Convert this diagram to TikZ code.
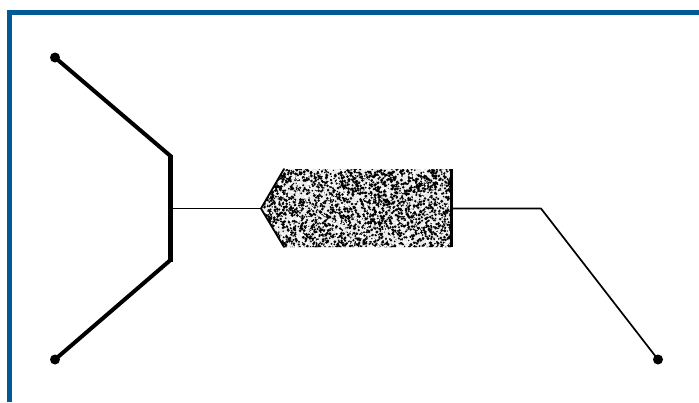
\documentclass[tikz,border=0pt]{standalone}
\definecolor{frameblue}{RGB}{0,90,150}
\definecolor{speckgrey}{RGB}{235,235,235}
\tikzset{
  wire/.style={draw=black,line join=miter,line cap=round},
  terminal/.style={circle,fill=black,inner sep=0pt,minimum size=10pt},
  frameline/.style={draw=frameblue,line width=5.5pt},
}
\begin{document}
\begin{tikzpicture}[x=1pt,y=-1pt]
\useasboundingbox (0,0) rectangle (699,402);
\fill[white] (0,0) rectangle (699,402);
% frame
\draw[frameline] (9.7,402) -- (9.7,12.7) -- (699,12.7);
% named points
\coordinate (tl) at (55,57.5);
\coordinate (bl) at (55,359.5);
\coordinate (br) at (658,359.5);
\coordinate (ja) at (170.5,156);
\coordinate (jb) at (170.5,260);
\coordinate (jm) at (170.5,208.5);
\coordinate (tip) at (261,208.5);
\coordinate (ca) at (284,169);
\coordinate (cb) at (284,247);
\coordinate (ra) at (451.3,169);
\coordinate (rb) at (451.3,247);
\coordinate (rm) at (451.3,208.5);
\coordinate (bend) at (541,208.5);
% speckled body
\begin{scope}
\clip (tip) -- (ca) -- (ra) -- (rb) -- (cb) -- cycle;
\fill[speckgrey] (255,165) rectangle (455,250);
\pgfmathsetseed{4242}
\foreach \i in {1,...,1100}{
  \pgfmathsetmacro{\px}{258+196*rnd}
  \pgfmathsetmacro{\py}{166+84*rnd}
  \pgfmathsetmacro{\pr}{0.7+1.0*rnd}
  \fill[white] (\px,\py) circle[radius=\pr pt];
}
\foreach \i in {1,...,2900}{
  \pgfmathsetmacro{\px}{258+196*rnd}
  \pgfmathsetmacro{\py}{166+84*rnd}
  \pgfmathsetmacro{\pr}{0.7+0.9*rnd}
  \fill[black] (\px,\py) circle[radius=\pr pt];
}
\foreach \i in {1,...,350}{
  \pgfmathsetmacro{\px}{258+196*rnd}
  \pgfmathsetmacro{\py}{166+84*rnd}
  \pgfmathsetmacro{\pr}{0.7+0.9*rnd}
  \fill[white] (\px,\py) circle[radius=\pr pt];
}
\end{scope}
\draw[wire,line width=1.8pt] (ca) -- (tip) -- (cb);
\draw[wire,line width=3.2pt,line cap=butt] (ra) -- (rb);
% connectors
\draw[wire,line width=4pt] (tl) -- (ja);
\draw[wire,line width=4pt] (bl) -- (jb);
\draw[wire,line width=4.5pt,line cap=butt] ([yshift=1.5pt]ja) -- ([yshift=-1.5pt]jb);
\draw[wire,line width=1.7pt] (jm) -- (tip);
\draw[wire,line width=1.7pt] (rm) -- (bend) -- (br);
% terminals
\node[terminal] (t1) at (tl) {};
\node[terminal] (t2) at (bl) {};
\node[terminal] (t3) at (br) {};
\end{tikzpicture}
\end{document}
